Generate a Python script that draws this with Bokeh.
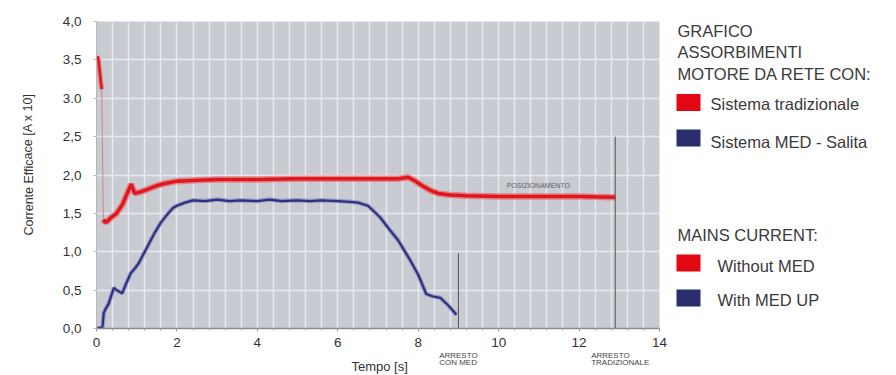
from bokeh.plotting import figure
from bokeh.models import Range1d, FixedTicker
from bokeh.layouts import row, column
from bokeh.core.properties import value
from bokeh.embed import file_html
from bokeh.resources import INLINE

FONT = "Liberation Sans"

# ---- data ----
red_t = [0.02, 0.05, 0.08, 0.11, 0.13, 0.17, 0.22, 0.28, 0.35, 0.5, 0.65, 0.78, 0.86, 0.95, 1.1, 1.3,
         1.5, 1.7, 2.0, 2.5, 3.0, 4.0, 5.0, 6.0, 7.0, 7.5, 7.75, 7.9, 8.1, 8.3, 8.5, 8.8, 9.2,
         10.0, 11.0, 12.0, 12.9]
red_v = [3.55, 3.5, 3.35, 3.2, 3.12, 1.42, 1.38, 1.4, 1.44, 1.5, 1.62, 1.78, 1.88, 1.76, 1.78, 1.82,
         1.86, 1.89, 1.92, 1.93, 1.94, 1.94, 1.95, 1.95, 1.95, 1.95, 1.97, 1.93, 1.86, 1.8, 1.76, 1.74, 1.73,
         1.72, 1.72, 1.72, 1.71]

blue_t = [0.0, 0.15, 0.18, 0.22, 0.3, 0.43, 0.5, 0.64, 0.75, 0.85, 0.95, 1.05, 1.15, 1.3, 1.45, 1.6,
          1.75, 1.9, 2.0, 2.2, 2.4, 2.7, 3.0, 3.3, 3.6, 4.0, 4.3, 4.6, 5.0, 5.3, 5.6, 6.0, 6.3, 6.5,
          6.75, 7.05, 7.3, 7.5, 7.8, 8.0, 8.2, 8.35, 8.55, 8.75, 8.95]
blue_v = [0.0, 0.02, 0.2, 0.25, 0.32, 0.53, 0.5, 0.46, 0.6, 0.72, 0.78, 0.85, 0.95, 1.1, 1.25, 1.38,
          1.48, 1.57, 1.6, 1.64, 1.67, 1.66, 1.68, 1.66, 1.67, 1.66, 1.68, 1.66, 1.67, 1.66, 1.67, 1.66, 1.65, 1.64,
          1.6, 1.45, 1.28, 1.15, 0.89, 0.7, 0.45, 0.42, 0.40, 0.3, 0.18]

stop_t = [9.0, 12.9]
stop_top = [0.98, 2.5]
stop_labels_1 = ["ARRESTO", "ARRESTO"]
stop_labels_2 = ["CON MED", "TRADIZIONALE"]
stop_label_x = [8.52, 12.3]

x_ticks = [0, 2, 4, 6, 8, 10, 12, 14]
y_ticks = [0.0, 0.5, 1.0, 1.5, 2.0, 2.5, 3.0, 3.5, 4.0]
y_labels = ["0,0", "0,5", "1,0", "1,5", "2,0", "2,5", "3.0", "3,5", "4,0"]
x_grid = [0.4 * i for i in range(36)]

legend_title_1 = ["GRAFICO", "ASSORBIMENTI", "MOTORE DA RETE CON:"]
legend_items_1 = ["Sistema tradizionale", "Sistema MED - Salita"]
legend_title_2 = ["MAINS CURRENT:"]
legend_items_2 = ["Without MED", "With MED UP"]

RED = "#e1161f"
BLUE = "#2c3182"
TXT = "#333333"

# ---- left strip with y-axis title ----
pl = figure(width=46, height=375, x_range=Range1d(0, 46), y_range=Range1d(375, 0),
            output_backend="svg", toolbar_location=None,
            min_border_left=0, min_border_right=0, min_border_top=0, min_border_bottom=0)
pl.axis.visible = False
pl.grid.visible = False
pl.outline_line_color = None
pl.text(x=[28], y=[164], text=["Corrente Efficace [A x 10]"], angle=1.5708,
        text_font=value(FONT), text_font_size="12.5px", text_color=TXT,
        text_align="center", text_baseline="middle")

# ---- main chart ----
p = figure(width=628, height=352, x_range=Range1d(0, 14), y_range=Range1d(0, 4),
           output_backend="svg", toolbar_location=None,
           min_border_left=50, min_border_right=15, min_border_top=21, min_border_bottom=24)
p.background_fill_color = "#c9cbd2"
p.border_fill_color = "white"
p.outline_line_color = None

p.xgrid.ticker = FixedTicker(ticks=x_grid)
p.ygrid.ticker = FixedTicker(ticks=y_ticks)
for g in (p.xgrid, p.ygrid):
    g.grid_line_color = "#e8e9ed"
    g.grid_line_width = 1.5

p.xaxis.ticker = FixedTicker(ticks=x_ticks, minor_ticks=x_grid)
p.yaxis.ticker = FixedTicker(ticks=y_ticks)
p.yaxis.major_label_overrides = {t: l for t, l in zip(y_ticks, y_labels)}
for ax in (p.xaxis, p.yaxis):
    ax.major_label_text_font = FONT
    ax.major_label_text_font_size = "13.5px"
    ax.major_label_text_color = TXT
    ax.major_tick_in = 0
    ax.major_tick_out = 3
    ax.minor_tick_in = 0
    ax.minor_tick_out = 0
ax = p.xaxis[0]
ax.axis_line_color = "#8c8c8c"
ax.axis_line_width = 1.5
ax.major_tick_line_color = "#8c8c8c"
ax.minor_tick_out = 2
ax.minor_tick_line_color = "#a0a0a0"
ax.major_label_standoff = 6
ay = p.yaxis[0]
ay.axis_line_color = "#b8b8b8"
ay.major_tick_line_color = "#b8b8b8"
ay.major_label_standoff = 12

# curves with a soft halo
p.line(red_t[:5], red_v[:5], line_color="#ea5a5f", line_width=5, line_alpha=0.6)
p.line(red_t[:5], red_v[:5], line_color=RED, line_width=2.5)
p.line(red_t[4:6], red_v[4:6], line_color="#e0606a", line_width=1, line_alpha=0.7)
p.line(red_t[5:], red_v[5:], line_color="#ea5a5f", line_width=6.5, line_alpha=0.6)
p.line(red_t[5:], red_v[5:], line_color=RED, line_width=3.5)

p.line(blue_t, blue_v, line_color="#6c70b0", line_width=4.5, line_alpha=0.5)
p.line(blue_t, blue_v, line_color=BLUE, line_width=2.2)

p.segment(x0=stop_t, y0=[0, 0], x1=stop_t, y1=stop_top, line_color="#555555", line_width=1)

p.text(x=[10.2], y=[1.86], text=["POSIZIONAMENTO"], text_font=value(FONT), text_font_size="7px",
       text_color="#606060", text_baseline="middle")

# ---- strip under the chart (same x scale) ----
pb = figure(width=628, height=23, x_range=p.x_range, y_range=Range1d(375, 352),
            output_backend="svg", toolbar_location=None,
            min_border_left=50, min_border_right=15, min_border_top=0, min_border_bottom=0)
pb.axis.visible = False
pb.grid.visible = False
pb.outline_line_color = None
small_kw = dict(text_font=value(FONT), text_font_size="8px", text_color="#444444",
                text_baseline="middle", text_align="left")
pb.text(x=stop_label_x, y=[355, 355], text=stop_labels_1, **small_kw)
pb.text(x=stop_label_x, y=[362, 362], text=stop_labels_2, **small_kw)
pb.text(x=[7.04], y=[366], text=["Tempo [s]"], text_font=value(FONT), text_font_size="13px",
        text_color=TXT, text_align="center", text_baseline="middle")

# ---- legend panel ----
q = figure(width=222, height=375, x_range=Range1d(0, 222), y_range=Range1d(375, 0),
           output_backend="svg", toolbar_location=None,
           min_border_left=0, min_border_right=0, min_border_top=0, min_border_bottom=0)
q.axis.visible = False
q.grid.visible = False
q.outline_line_color = None

title_y_1 = [30, 51, 73]
item_y_1 = [103, 141]
title_y_2 = [234]
item_y_2 = [265, 299]
square_y = [102, 137.5, 262.5, 297.5]
text_kw = dict(text_font=value(FONT), text_font_size="16.5px", text_color="#3a3a3a",
               text_baseline="middle", text_align="left")
q.text(x=[3] * 3, y=title_y_1, text=legend_title_1, **text_kw)
q.text(x=[36] * 2, y=item_y_1, text=legend_items_1, **text_kw)
q.text(x=[3], y=title_y_2, text=legend_title_2, **text_kw)
q.text(x=[43] * 2, y=item_y_2, text=legend_items_2, **text_kw)

sq_col = ["#e30613", "#2b2e6c", "#e30613", "#2b2e6c"]
q.quad(left=[2] * 4, right=[26] * 4, top=[y - 8.5 for y in square_y], bottom=[y + 8.5 for y in square_y],
       fill_color=sq_col, line_color=None)

layout = row(pl, column(p, pb), q)
open("out.html", "w").write(file_html(layout, INLINE))
